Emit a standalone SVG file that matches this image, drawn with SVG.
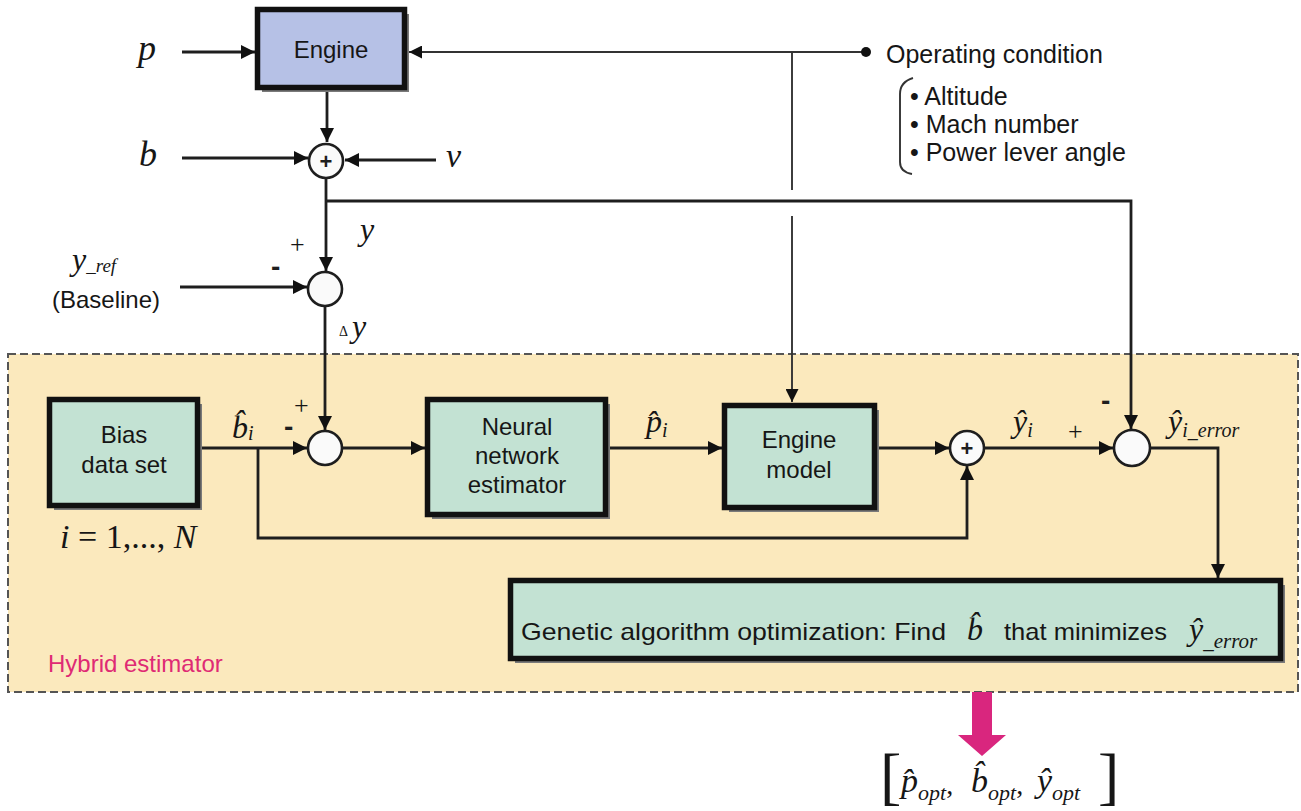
<svg xmlns="http://www.w3.org/2000/svg" width="1301" height="811" viewBox="0 0 1301 811">
<style>
.box{stroke:#111;stroke-width:5.5}
.blue{fill:#b6c1e6}
.green{fill:#c3e2d3}
.shadow{fill:#7a7a7a}
.lbl{font-family:"Liberation Sans",Arial,sans-serif;font-size:24px;fill:#161616}
.lbl2{font-family:"Liberation Sans",Arial,sans-serif;font-size:25px;fill:#161616}
.m{font-family:"Liberation Serif","Times New Roman",serif;font-style:italic;fill:#161616}
.r{font-family:"Liberation Serif","Times New Roman",serif;fill:#161616}
.ln{stroke:#1e1e1e;stroke-width:2.8;fill:none}
.thin{stroke:#333;stroke-width:1.9;fill:none}
.circ{fill:#fafafa;stroke:#1e1e1e;stroke-width:2.6}
.sign{font-family:"Liberation Sans",Arial,sans-serif;font-weight:bold;fill:#1e1e1e}
</style>
<defs>
<marker id="ah" viewBox="0 0 10 10" refX="10" refY="5" markerUnits="userSpaceOnUse" markerWidth="18" markerHeight="14" orient="auto">
<path d="M0,0 L10,5 L0,10 z" fill="#111"/>
</marker>
<marker id="ahs" viewBox="0 0 10 10" refX="10" refY="5" markerUnits="userSpaceOnUse" markerWidth="16" markerHeight="13" orient="auto">
<path d="M0,0 L10,5 L0,10 z" fill="#111"/>
</marker>
</defs>
<rect width="1301" height="811" fill="#ffffff"/>

<g id="hybrid-estimator">
<rect x="8" y="354" width="1290" height="338" fill="#fbe9bd" stroke="#555" stroke-width="2" stroke-dasharray="8 4"/>
<text x="48" y="672" font-family="Liberation Sans,Arial,sans-serif" font-size="24" fill="#df2a74">Hybrid estimator</text>
</g>

<g id="connectors">
<path class="ln" d="M182,52 H255" marker-end="url(#ah)"/>
<path class="ln" d="M327,90 V142" marker-end="url(#ah)"/>
<path class="ln" d="M182,158 H308" marker-end="url(#ah)"/>
<path class="ln" d="M436,160 H345" marker-end="url(#ah)"/>
<path class="thin" d="M866,52 H409" marker-end="url(#ahs)"/>
<circle cx="866" cy="52" r="5" fill="#111"/>
<path class="thin" d="M792,52 V190"/>
<path class="thin" d="M792,216 V402" marker-end="url(#ahs)"/>
<path class="ln" d="M326,178 V271" marker-end="url(#ah)"/>
<path class="ln" d="M326,201 H1131 V429" marker-end="url(#ah)"/>
<path class="ln" d="M180,287 H307" marker-end="url(#ah)"/>
<path class="ln" d="M325,306 V430" marker-end="url(#ah)"/>
<path class="ln" d="M200,448 H307" marker-end="url(#ah)"/>
<path class="ln" d="M258,448 V538 H967 V466" marker-end="url(#ah)"/>
<path class="ln" d="M343,448 H425" marker-end="url(#ah)"/>
<path class="ln" d="M608,448 H722" marker-end="url(#ah)"/>
<path class="ln" d="M877,448 H949" marker-end="url(#ah)"/>
<path class="ln" d="M985,448 H1113" marker-end="url(#ah)"/>
<path class="ln" d="M1150,448 H1218 V578" marker-end="url(#ah)"/>
<path d="M972,692 H992 V735 H1006 L982,756 L958,735 H972 Z" fill="#d9267e"/>
</g>

<g id="engine">
<rect class="shadow" x="262" y="14" width="147" height="78"/>
<rect class="box blue" x="257.5" y="9.5" width="147" height="78"/>
<text class="lbl" x="331" y="58" text-anchor="middle">Engine</text>
</g>

<g id="sum-top">
<circle class="circ" cx="326" cy="161" r="17"/>
<text class="sign" x="326" y="169" font-size="22" text-anchor="middle">+</text>
</g>

<g id="sum-ref">
<circle class="circ" cx="325" cy="289" r="17"/>
</g>

<g id="sum-bias">
<circle class="circ" cx="325" cy="448" r="17"/>
</g>

<g id="sum-model">
<circle class="circ" cx="967" cy="448" r="17"/>
<text class="sign" x="967" y="456" font-size="22" text-anchor="middle">+</text>
</g>

<g id="sum-error">
<circle class="circ" cx="1132" cy="448" r="18"/>
</g>

<g id="bias-data-set">
<rect class="shadow" x="54" y="404" width="148" height="106"/>
<rect class="box green" x="49.5" y="399.5" width="148" height="106"/>
<text class="lbl" x="124" y="443" text-anchor="middle">Bias</text>
<text class="lbl" x="124" y="473" text-anchor="middle">data set</text>
</g>

<g id="neural-network">
<rect class="shadow" x="432" y="404" width="178" height="115"/>
<rect class="box green" x="427.5" y="399.5" width="178" height="115"/>
<text class="lbl" x="517" y="435" text-anchor="middle">Neural</text>
<text class="lbl" x="517" y="464" text-anchor="middle">network</text>
<text class="lbl" x="517" y="493" text-anchor="middle">estimator</text>
</g>

<g id="engine-model">
<rect class="shadow" x="729" y="410" width="150" height="102"/>
<rect class="box green" x="724.5" y="405.5" width="150" height="102"/>
<text class="lbl" x="799" y="448" text-anchor="middle">Engine</text>
<text class="lbl" x="799" y="478" text-anchor="middle">model</text>
</g>

<g id="ga-optimization">
<rect class="shadow" x="515" y="585" width="770" height="78"/>
<rect class="box green" x="510.5" y="580.5" width="770" height="78"/>
<text class="lbl" x="521" y="640" font-size="25" textLength="425" lengthAdjust="spacingAndGlyphs">Genetic algorithm optimization:  Find</text>
<text class="m" x="967" y="640" font-size="32">b&#x302;</text>
<text class="lbl" x="1004" y="640" font-size="25" textLength="163" lengthAdjust="spacingAndGlyphs">that minimizes</text>
<text class="m" x="1189" y="640" font-size="32">ŷ<tspan font-size="21" dy="8">_error</tspan></text>
</g>

<g id="operating-condition">
<text class="lbl2" x="886" y="63">Operating condition</text>
<path class="thin" d="M913,78 Q900,82 900,94 V162 Q900,172 912,174" stroke-width="2"/>
<text class="lbl2" x="910" y="105">• Altitude</text>
<text class="lbl2" x="910" y="133">• Mach number</text>
<text class="lbl2" x="910" y="161">• Power lever angle</text>
</g>

<g id="labels">
<text class="m" x="138" y="60" font-size="36">p</text>
<text class="m" x="139" y="166" font-size="36">b</text>
<text class="m" x="446" y="167" font-size="34">ν</text>
<text class="m" x="360" y="240" font-size="32">y</text>
<text class="r" x="290" y="253" font-size="26">+</text>
<text class="sign" x="271" y="276" font-size="28">-</text>
<text class="m" x="72" y="270" font-size="32">y<tspan font-size="19" dy="2">_ref</tspan></text>
<text class="lbl" x="52" y="308" font-size="23">(Baseline)</text>
<text class="m" x="339" y="337" font-size="32"><tspan class="r" font-style="normal" font-size="14" dy="-1">Δ</tspan><tspan dx="4" dy="1">y</tspan></text>

<text class="m" x="232" y="438" font-size="32">b&#x302;<tspan font-size="20" dy="2">i</tspan></text>
<text class="r" x="294" y="414" font-size="26">+</text>
<text class="sign" x="284" y="436" font-size="28">-</text>
<text class="m" x="60" y="548" font-size="34">i<tspan class="r" font-style="normal"> = 1,..., </tspan>N</text>

<text class="m" x="646" y="432" font-size="32">p&#x302;<tspan font-size="20" dy="5">i</tspan></text>

<text class="m" x="1013" y="432" font-size="32">ŷ<tspan font-size="20" dy="5">i</tspan></text>
<text class="r" x="1068" y="440" font-size="26">+</text>
<text class="sign" x="1101" y="410" font-size="28">-</text>
<text class="m" x="1168" y="432" font-size="32">ŷ<tspan font-size="20" dy="5">i_error</tspan></text>

<text class="r" x="880" y="797" font-size="64">[</text>
<text class="m" x="901" y="792" font-size="34">p&#x302;<tspan font-size="22" dy="8">opt</tspan><tspan class="r" font-style="normal" font-size="28" dy="-6">,</tspan></text>
<text class="m" x="971" y="792" font-size="34">b&#x302;<tspan font-size="22" dy="8">opt</tspan><tspan class="r" font-style="normal" font-size="28" dy="-6">,</tspan></text>
<text class="m" x="1037" y="792" font-size="34">ŷ<tspan font-size="22" dy="8">opt</tspan></text>
<text class="r" x="1098" y="797" font-size="64">]</text>
</g>
</svg>
